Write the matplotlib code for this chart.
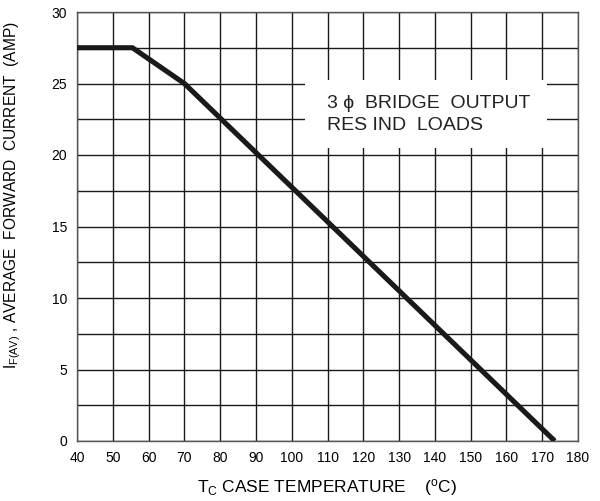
import matplotlib
matplotlib.use("Agg")
import matplotlib.pyplot as plt
import numpy as np

plt.rcParams['font.family'] = ['Liberation Sans', 'DejaVu Sans']
plt.rcParams['mathtext.fontset'] = 'custom'
plt.rcParams['mathtext.rm'] = 'Liberation Sans'

# derating curve: case temperature vs average forward current
temp_c = [40, 55.5, 70, 173.5]
current_a = [27.5, 27.5, 25, 0]

x_ticks = np.arange(40, 181, 10)
y_ticks = [0, 5, 10, 15, 20, 25, 30]
y_grid = np.arange(0, 30.1, 2.5)

fig = plt.figure(figsize=(6, 5.01), dpi=100)
ax = fig.add_axes([77 / 600, 1 - 441 / 501, 501 / 600, 429 / 501])

ax.set_xlim(40, 180)
ax.set_ylim(0, 30)

# grid drawn by hand so the 2.5 A lines show too
for xv in x_ticks:
    ax.axvline(xv, color='#1a1a1a', lw=1.0, zorder=1)
for yv in y_grid:
    ax.axhline(yv, color='#1a1a1a', lw=1.0, zorder=1)

# white label box that breaks the grid
ax.fill_between([103.7, 171.3], 20.5, 25.25, color='white', zorder=2, lw=0)
ax.text(109.9, 23.6, "3 \u03d5  BRIDGE  OUTPUT", fontsize=14, va='center', zorder=3, color='#222222')
ax.text(109.9, 22.05, "RES IND  LOADS", fontsize=14, va='center', zorder=3, color='#222222')

ax.plot(temp_c, current_a, color='#1a1a1a', lw=3.7, solid_capstyle='butt', zorder=4)

ax.set_xticks(x_ticks)
ax.set_yticks(y_ticks)
ax.tick_params(length=0, labelsize=10, pad=7)
for s in ax.spines.values():
    s.set_color('#555555')
    s.set_linewidth(1.0)

ax.set_xlabel(r"$\mathregular{T_C}$ CASE TEMPERATURE    ($\mathregular{^o}$C)", fontsize=12.5, labelpad=9)
ax.set_ylabel(r"$\mathregular{I_{F(AV)}}$ , AVERAGE  FORWARD  CURRENT  (AMP)", fontsize=11.2)
ax.yaxis.set_label_coords(-0.108, 0.573)

fig.savefig("out.png", dpi=100)
